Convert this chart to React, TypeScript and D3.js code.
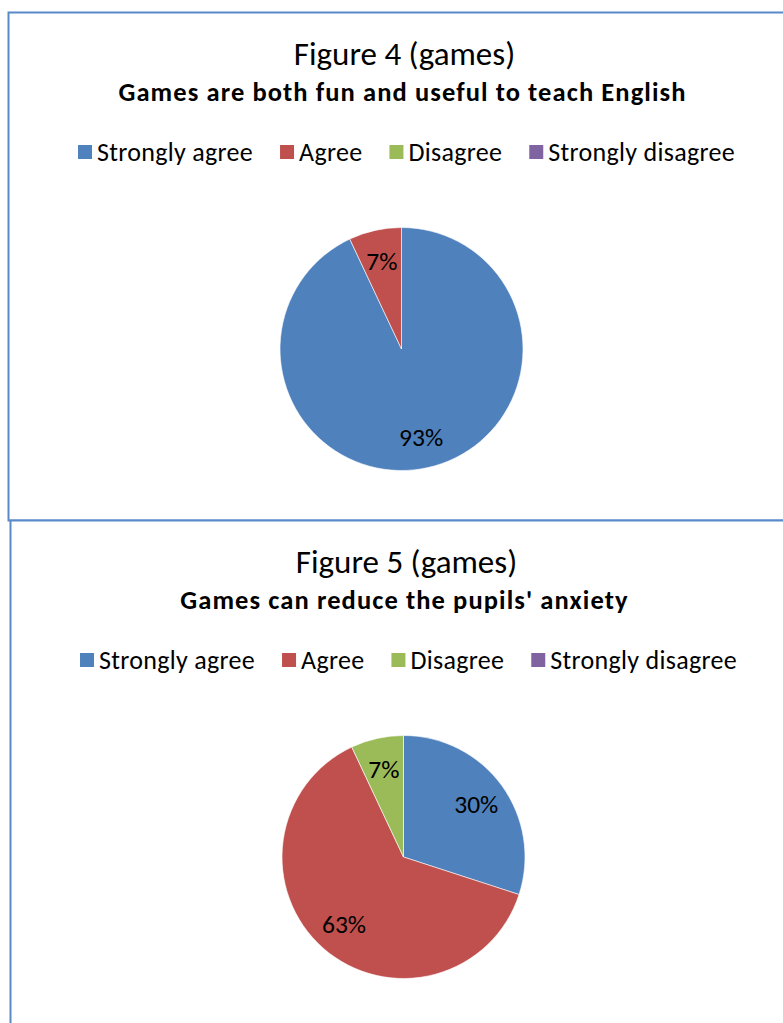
import React, { useEffect, useRef } from "react";
import * as d3 from "d3";

const categories = ["Strongly agree", "Agree", "Disagree", "Strongly disagree"];
const sliceColors = ["#4F81BD", "#C0504D", "#9BBB59", "#8064A2"];
const fig4Values = [93, 7, 0, 0];
const fig5Values = [30, 63, 7, 0];
const chartHeadings = ["Figure 4 (games)", "Figure 5 (games)"];
const chartSubtitles = ["Games are both fun and useful to teach English", "Games can reduce the pupils' anxiety"];

const FONT = "Carlito, Calibri, Lato, 'Open Sans', sans-serif";
const W = 783;
const H = 1023;
const CHART_W = 786;
const CHART_H = 508;

export default function App() {
  const ref = useRef<SVGSVGElement | null>(null);

  useEffect(() => {
    const svg = d3.select(ref.current);
    svg.selectAll("*").remove();

    const charts = [
      { x: 8.5, y: 12.5, values: fig4Values, heading: chartHeadings[0], subtitle: chartSubtitles[0] },
      { x: 10.5, y: 520.5, values: fig5Values, heading: chartHeadings[1], subtitle: chartSubtitles[1] },
    ];

    charts.forEach((c) => {
      const g = svg.append("g").attr("transform", `translate(${c.x},${c.y})`);
      g.append("rect")
        .attr("x", 0).attr("y", 0)
        .attr("width", CHART_W).attr("height", CHART_H)
        .attr("fill", "white")
        .attr("stroke", "#5A89C8")
        .attr("stroke-width", 2);

      const cx = CHART_W / 2;
      g.append("text")
        .attr("x", cx + 3).attr("y", 52)
        .attr("text-anchor", "middle")
        .attr("font-family", FONT)
        .attr("font-size", 33)
        .attr("fill", "#000")
        .text(c.heading);
      g.append("text")
        .attr("x", cx + 1).attr("y", 88)
        .attr("text-anchor", "middle")
        .attr("font-family", FONT)
        .attr("font-size", 26.5)
        .attr("letter-spacing", 1.1)
        .attr("font-weight", "bold")
        .attr("fill", "#000")
        .text(c.subtitle);

      // legend
      const lg = g.append("g");
      const sq = 14, gapSym = 5, gapItem = 27;
      const items = categories.map((cat, i) => {
        const ig = lg.append("g");
        ig.append("rect").attr("width", sq).attr("height", sq).attr("y", -sq / 2).attr("fill", sliceColors[i]);
        const t = ig.append("text")
          .attr("x", sq + gapSym)
          .attr("y", 0)
          .attr("dy", "0.35em")
          .attr("font-family", FONT)
          .attr("font-size", 26)
          .attr("letter-spacing", 0.3)
          .attr("fill", "#000")
          .text(cat);
        const w = (t.node() as SVGTextElement).getComputedTextLength();
        return { ig, w: sq + gapSym + w };
      });
      const total = d3.sum(items, (d) => d.w) + gapItem * (items.length - 1);
      let xx = cx + 5 - total / 2;
      items.forEach((it) => {
        it.ig.attr("transform", `translate(${xx},${139.5})`);
        xx += it.w + gapItem;
      });

      // pie
      const r = 121.5;
      const pg = g.append("g").attr("transform", `translate(${cx},${336.5})`);
      const pie = d3.pie<number>().sort(null).value((d) => d);
      const arcs = pie(c.values);
      const arc = d3.arc<d3.PieArcDatum<number>>().innerRadius(0).outerRadius(r);
      const labelArc = d3.arc<d3.PieArcDatum<number>>().innerRadius(r * 0.74).outerRadius(r * 0.74);
      const total2 = d3.sum(c.values);
      pg.selectAll("path.slice")
        .data(arcs.filter((a) => a.value > 0))
        .enter()
        .append("path")
        .attr("class", "slice")
        .attr("d", arc)
        .attr("fill", (d) => sliceColors[d.index])
        .attr("stroke", "#ffffff")
        .attr("stroke-width", 0.6);
      pg.selectAll("text.lbl")
        .data(arcs.filter((a) => a.value > 0))
        .enter()
        .append("text")
        .attr("class", "lbl")
        .attr("transform", (d) => `translate(${labelArc.centroid(d)})`)
        .attr("text-anchor", "middle")
        .attr("dy", "0.35em")
        .attr("font-family", FONT)
        .attr("font-size", 25.5)
        .attr("fill", "#000")
        .text((d) => `${Math.round((d.value / total2) * 100)}%`);
    });
  }, []);

  return (
    <svg
      ref={ref}
      width={W}
      height={H}
      style={{ position: "absolute", left: 0, top: 0, display: "block", background: "#fff" }}
    />
  );
}
